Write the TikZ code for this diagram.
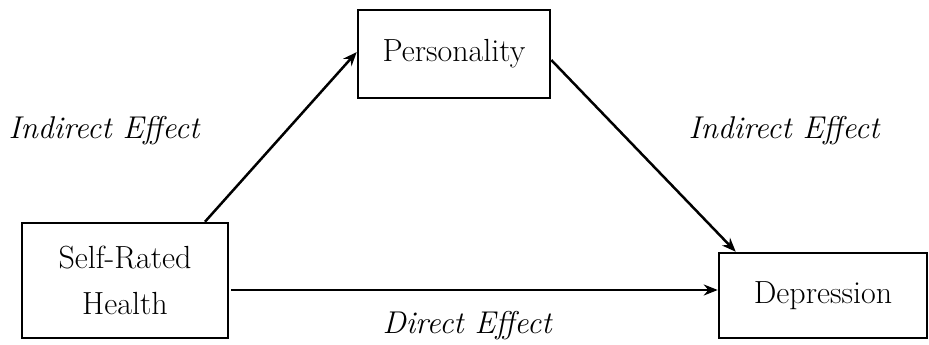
\documentclass[tikz,border=0pt]{standalone}
\usetikzlibrary{arrows.meta}
\begin{document}
\begin{tikzpicture}[x=1pt,y=1pt,
  box/.style={draw,line width=2.5pt,minimum width=#1,inner sep=0pt,align=center,font=\fontsize{32}{46}\selectfont},
  arr/.style={line width=2.5pt,-{Stealth[length=14pt,width=11pt]}},
  lab/.style={font=\fontsize{31.5}{36}\selectfont\itshape}]
\useasboundingbox (0,0) rectangle (929,345);
\node[box=206pt,minimum height=115pt] (srh) at (125,64.5) {Self-Rated\\Health};
\node[box=192pt,minimum height=88pt] (pers) at (454,291) {Personality};
\node[box=208pt,minimum height=85pt] (dep) at (823,49.5) {Depression};
\coordinate (h) at (0,55);
\draw[arr] ([xshift=80pt]srh.north) -- ([yshift=2pt]pers.west);
\draw[arr] ([yshift=-6pt]pers.east) -- ([xshift=18pt]dep.north west);
\draw[arr,shorten <=2pt] (srh.east |- h) -- (dep.west |- h);
\node[lab] (l1) at (104,214) {Indirect Effect};
\node[lab] (l2) at (784,214) {Indirect Effect};
\node[lab] (l3) at (467,19) {Direct Effect};
\end{tikzpicture}
\end{document}
